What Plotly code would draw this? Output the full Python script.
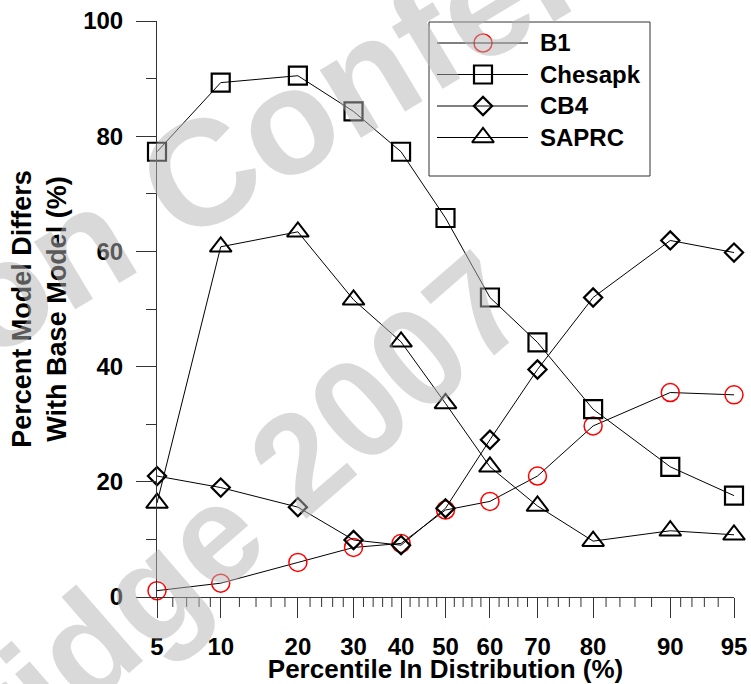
import math
from statistics import NormalDist
import plotly.graph_objects as go

# Percentile positions (plotted on a normal-probability scale)
percentiles = [5, 10, 20, 30, 40, 50, 60, 70, 80, 90, 95]
minor_percentiles = [6, 7, 8, 9, 12, 14, 16, 18, 22, 24, 26, 28, 32, 34, 36, 38,
                     42, 44, 46, 48, 52, 54, 56, 58, 62, 64, 66, 68, 72, 74, 76, 78,
                     82, 84, 86, 88, 91, 92, 93, 94]
tick_labels = ["5", "10", "20", "30", "40", "50", "60", "70", "80", "90", "95"]

# Percent of cases in which each model differs from the base model
b1 = [1.1, 2.4, 6.0, 8.6, 9.3, 15.1, 16.6, 21.0, 29.7, 35.5, 35.1]
chesapk = [77.3, 89.3, 90.5, 84.3, 77.3, 65.8, 52.0, 44.2, 32.6, 22.6, 17.6]
cb4 = [21.0, 19.0, 15.6, 9.9, 9.0, 15.4, 27.3, 39.5, 52.0, 61.9, 59.8]
saprc = [16.3, 60.8, 63.4, 51.6, 44.3, 33.6, 22.6, 15.8, 9.7, 11.5, 10.8]

series_names = ["B1", "Chesapk", "CB4", "SAPRC"]

nd = NormalDist()


def probit(p):
    return nd.inv_cdf(p / 100.0)


xs = [probit(p) for p in percentiles]
x_major = xs
x_minor = [probit(p) for p in minor_percentiles]

W, H = 751, 684
ML, MR, MT, MB = 157, 17, 21, 87
FONT = "Arial, Liberation Sans, sans-serif"
AXIS_COLOR = "#333333"


def paper(xp, yp):
    """Convert a pixel position on the page into paper coordinates."""
    return (xp - ML) / (W - ML - MR), 1 - (yp - MT) / (H - MT - MB)


styles = {
    "B1": dict(symbol="circle-open", size=18, color="#ff0000", width=1.5),
    "Chesapk": dict(symbol="square-open", size=18, color="#000000", width=2.2),
    "CB4": dict(symbol="diamond-open", size=14, color="#000000", width=2.2),
    "SAPRC": dict(symbol="triangle-up-open", size=19, color="#000000", width=2.0),
}

fig = go.Figure()

for name, values in zip(series_names, [b1, chesapk, cb4, saprc]):
    st = styles[name]
    fig.add_trace(go.Scatter(
        x=xs, y=values, name=name, mode="lines+markers",
        line=dict(color="#000000", width=1),
        marker=dict(symbol=st["symbol"], size=st["size"], color=st["color"],
                    line=dict(width=st["width"], color=st["color"])),
        cliponaxis=False, showlegend=False,
    ))

shapes = []

# Minor ticks on the probability axis
for v in x_minor:
    shapes.append(dict(type="line", xref="x", yref="paper", x0=v, x1=v,
                       ysizemode="pixel", yanchor=0, y0=0, y1=-10,
                       line=dict(color=AXIS_COLOR, width=1)))

# Boxed key in the upper right of the plotting area
box_x0, box_x1, box_y0, box_y1 = 429, 650, 22, 176
row_y = [43, 74.5, 106, 137.5]
line_x0, line_x1, sym_x, text_x = 437, 528, 483, 538

bx0, by0 = paper(box_x0, box_y0)
bx1, by1 = paper(box_x1, box_y1)
shapes.append(dict(type="rect", xref="paper", yref="paper", x0=bx0, x1=bx1,
                   y0=by1, y1=by0, line=dict(color=AXIS_COLOR, width=1),
                   fillcolor="white", layer="below"))

annotations = []
for name, ry in zip(series_names, row_y):
    lx0, ly = paper(line_x0, ry)
    lx1, _ = paper(line_x1, ry)
    shapes.append(dict(type="line", xref="paper", yref="paper", x0=lx0, x1=lx1,
                       y0=ly, y1=ly, line=dict(color="#000000", width=1)))
    sx, _ = paper(sym_x, ry)
    tx, _ = paper(text_x, ry)
    st = styles[name]
    fig.add_trace(go.Scatter(
        x=[sx], y=[ly], mode="markers", xaxis="x3", yaxis="y3",
        marker=dict(symbol=st["symbol"], size=st["size"], color=st["color"],
                    line=dict(width=st["width"], color=st["color"])),
        showlegend=False, hoverinfo="skip", cliponaxis=False,
    ))
    annotations.append(dict(text=name, xref="paper", yref="paper", x=tx, y=ly,
                            xanchor="left", yanchor="middle", showarrow=False,
                            font=dict(family=FONT, size=24, color="#000000",
                                      weight="bold")))

# Faint diagonal watermark lettering across the chart
wm_color = "rgba(180,180,180,0.5)"
for text, cx, cy, ang, size in [("on Conference", 411, 47, 31, 150),
                                ("bridge 2007", 212, 536, 41, 140)]:
    wx, wy = paper(cx, cy)
    annotations.append(dict(text=text, xref="paper", yref="paper", x=wx, y=wy,
                            xanchor="center", yanchor="middle", showarrow=False,
                            textangle=-ang,
                            font=dict(family=FONT, size=size, color=wm_color,
                                      weight="bold")))

tick_font = dict(family=FONT, size=24, color="#000000", weight="bold")
title_font = dict(family=FONT, size=26, color="#000000", weight="bold")

fig.update_layout(
    width=W, height=H, autosize=False,
    margin=dict(l=ML, r=MR, t=MT, b=MB, pad=0),
    paper_bgcolor="white", plot_bgcolor="white",
    showlegend=False,
    shapes=shapes, annotations=annotations,
    xaxis=dict(
        range=[xs[0], xs[-1]], tickmode="array", tickvals=x_major,
        ticktext=tick_labels, ticks="outside", ticklen=20, tickwidth=1,
        tickcolor=AXIS_COLOR, showline=True, linecolor=AXIS_COLOR, linewidth=1,
        showgrid=False, zeroline=False, tickfont=tick_font, automargin=False,
        ticklabelstandoff=8,
        title=dict(text="Percentile In Distribution (%)", font=title_font,
                   standoff=3),
    ),
    yaxis=dict(
        range=[0, 100], tickmode="linear", tick0=0, dtick=20,
        ticks="outside", ticklen=20, tickwidth=1, tickcolor=AXIS_COLOR,
        minor=dict(dtick=10, ticks="outside", ticklen=10, tickwidth=1,
                   tickcolor=AXIS_COLOR, showgrid=False),
        showline=True, linecolor=AXIS_COLOR, linewidth=1,
        showgrid=False, zeroline=False, tickfont=tick_font, automargin=False,
        ticklabelstandoff=8,
        title=dict(text="Percent Model Differs<br>With Base Model (%)",
                   font=dict(family=FONT, size=27, color="#000000",
                             weight="bold"),
                   standoff=8),
    ),
    xaxis3=dict(overlaying="x", anchor="y3", range=[0, 1], visible=False),
    yaxis3=dict(overlaying="y", anchor="x3", range=[0, 1], visible=False),
)

fig.write_html("out.html")
